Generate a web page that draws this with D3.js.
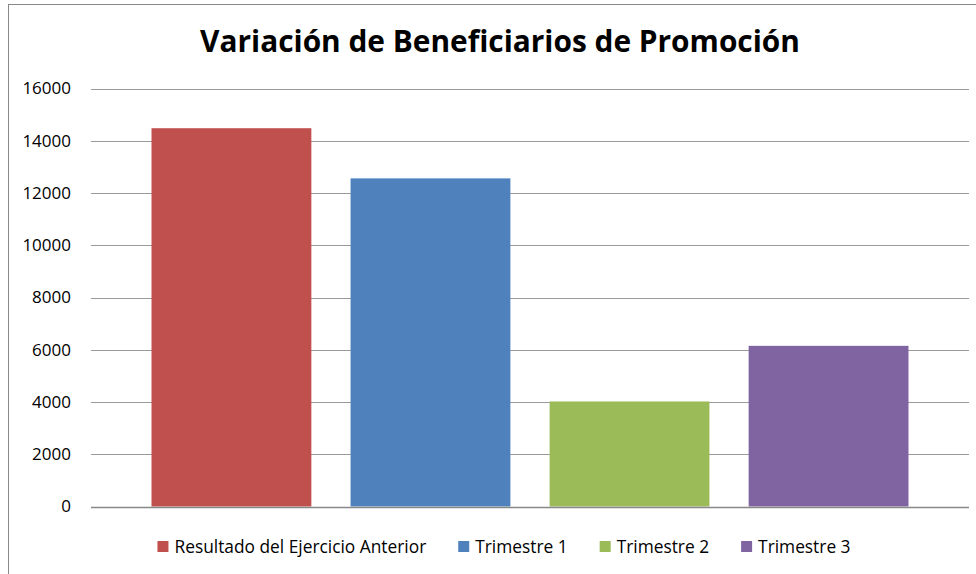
<!DOCTYPE html>
<html>
<head>
<meta charset="utf-8">
<script src="https://cdn.jsdelivr.net/npm/d3@7"></script>
<style>
  body { margin: 0; background: #fff; }
  text { font-family: "Open Sans", "Noto Sans", sans-serif; fill: #000; }
</style>
</head>
<body>
<svg id="chart" width="976" height="574"></svg>
<script>
// chart data
let title = "Variación de Beneficiarios de Promoción"
let series = ["Resultado del Ejercicio Anterior", "Trimestre 1", "Trimestre 2", "Trimestre 3"]
let values = [14480, 12560, 4020, 6150]
let colors = ["#C0504D", "#4F81BD", "#9BBB59", "#8064A2"]
let yTicks = [0, 2000, 4000, 6000, 8000, 10000, 12000, 14000, 16000]

let makeBars = () => {
    let svg = d3.select('#chart')

    // outer chart border (right and bottom run off the picture)
    svg.append("rect")
        .attr("x", 8.5).attr("y", 4.5)
        .attr("width", 1000).attr("height", 600)
        .attr("fill", "#fff")
        .attr("stroke", "#888").attr("stroke-width", 1)

    let plot = {left: 91, right: 969, top: 88.5, bottom: 506.5}

    let y = d3.scaleLinear().domain([0, 16000]).range([plot.bottom, plot.top])
    let x = d3.scaleBand().domain(series)
        .range([plot.left, plot.right])
        .paddingInner(0.197)
        .paddingOuter(0.304)

    // gridlines
    svg.append("g").selectAll("line")
        .data(yTicks.filter(d => d > 0))
        .enter().append("line")
        .attr("x1", plot.left).attr("x2", plot.right)
        .attr("y1", d => Math.round(y(d)) + 0.5)
        .attr("y2", d => Math.round(y(d)) + 0.5)
        .attr("stroke", "#9a9a9a").attr("stroke-width", 1)

    // y labels
    let yAxis = svg.append("g")
        .attr("transform", "translate(" + plot.left + ",0)")
        .call(d3.axisLeft(y).tickValues(yTicks).tickSize(0).tickPadding(20).tickFormat(d3.format("d")))
    yAxis.select(".domain").remove()
    yAxis.selectAll("text")
        .style("font-family", '"Open Sans", sans-serif')
        .style("font-size", "17px")
        .attr("fill", "#000")

    // bars
    svg.append("g").selectAll("rect")
        .data(series)
        .enter().append("rect")
        .attr("x", d => x(d))
        .attr("width", x.bandwidth())
        .attr("y", (d, i) => y(values[i]))
        .attr("height", (d, i) => y(0) - y(values[i]))
        .attr("fill", (d, i) => colors[i])

    // x axis line
    svg.append("line")
        .attr("x1", plot.left).attr("x2", plot.right)
        .attr("y1", Math.round(y(0)) + 0.5).attr("y2", Math.round(y(0)) + 0.5)
        .attr("stroke", "#888").attr("stroke-width", 1.3)

    // title, sized to the reference width
    let t = svg.append("text")
        .attr("x", 500).attr("y", 52)
        .attr("text-anchor", "middle")
        .style("font-weight", "bold")
        .style("font-size", "28px")
        .text(title)
    let tw = t.node().getComputedTextLength()
    t.style("font-size", (28 * 600 / tw) + "px")

    // legend
    let legend = svg.append("g")
    let items = legend.selectAll("g").data(series).enter().append("g")
    items.append("rect")
        .attr("width", 11).attr("height", 11)
        .attr("y", 541)
        .attr("fill", (d, i) => colors[i])
    items.append("text")
        .attr("y", 552.5)
        .style("font-size", "16px")
        .text(d => d)
    let widths = []
    items.select("text").each(function() { widths.push(this.getComputedTextLength()) })
    // scale legend text so the first label is as wide as in the reference
    let fs = 16 * 252 / widths[0]
    items.select("text").style("font-size", fs + "px")
    widths = []
    items.select("text").each(function() { widths.push(this.getComputedTextLength()) })
    let gap = 32
    let total = d3.sum(widths) + series.length * 17 + (series.length - 1) * gap
    let cx = 504 - total / 2
    items.each(function(d, i) {
        d3.select(this).select("rect").attr("x", cx)
        d3.select(this).select("text").attr("x", cx + 17)
        cx += 17 + widths[i] + gap
    })
}

makeBars()
</script>
</body>
</html>
